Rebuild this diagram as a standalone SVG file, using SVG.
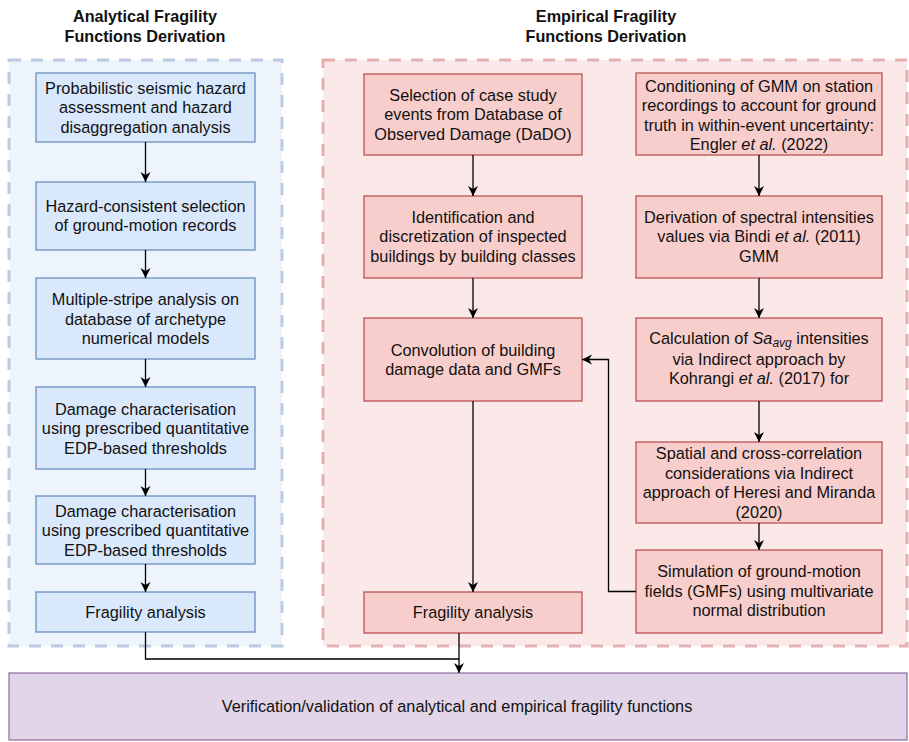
<svg xmlns="http://www.w3.org/2000/svg" width="909" height="742" viewBox="0 0 909 742">
<style>
text{font-family:"Liberation Sans",Arial,Helvetica,sans-serif;font-size:16.3px;fill:#111;text-anchor:middle}
.title{font-weight:bold;font-size:16.2px}
.blue{fill:#dae8fc;stroke:#6c8ebf;stroke-width:1.3}
.red{fill:#f8cecc;stroke:#b85450;stroke-width:1.3}
.purple{fill:#e1d5e7;stroke:#9673a6;stroke-width:1.3}
.cblue{fill:#eef4fc;stroke:#bccbe2;stroke-width:3;stroke-dasharray:12 10}
.cred{fill:#fbe9e9;stroke:#e3b1b0;stroke-width:3;stroke-dasharray:12 10}
.conn{fill:none;stroke:#000;stroke-width:1.3}
.it{font-style:italic}
</style>
<defs>
<marker id="arr" markerUnits="userSpaceOnUse" markerWidth="12" markerHeight="12" refX="10" refY="5" orient="auto">
<path d="M0,0 L10,5 L0,10 L3,5 Z" fill="#000"/>
</marker>
</defs>
<rect width="909" height="742" fill="#fff"/>

<g id="title-analytical">
<text class="title" x="145" y="22">Analytical Fragility</text>
<text class="title" x="145" y="42">Functions Derivation</text>
</g>
<g id="title-empirical">
<text class="title" x="606" y="22">Empirical Fragility</text>
<text class="title" x="606" y="42">Functions Derivation</text>
</g>

<g id="container-analytical"><rect class="cblue" x="9" y="60" width="273" height="586"/></g>
<g id="container-empirical"><rect class="cred" x="323" y="60" width="584" height="586"/></g>

<g id="a1"><rect class="blue" x="36" y="73" width="219" height="69"/>
<text x="145.5" y="93.5">Probabilistic seismic hazard</text>
<text x="145.5" y="113">assessment and hazard</text>
<text x="145.5" y="132.5">disaggregation analysis</text></g>
<g id="a2"><rect class="blue" x="36" y="182" width="219" height="68"/>
<text x="145.5" y="211.5">Hazard-consistent selection</text>
<text x="145.5" y="231">of ground-motion records</text></g>
<g id="a3"><rect class="blue" x="36" y="278" width="219" height="81"/>
<text x="145.5" y="305">Multiple-stripe analysis on</text>
<text x="145.5" y="324.5">database of archetype</text>
<text x="145.5" y="344">numerical models</text></g>
<g id="a4"><rect class="blue" x="36" y="387" width="219" height="82"/>
<text x="145.5" y="414.5">Damage characterisation</text>
<text x="145.5" y="434">using prescribed quantitative</text>
<text x="145.5" y="453.5">EDP-based thresholds</text></g>
<g id="a5"><rect class="blue" x="36" y="496" width="219" height="68"/>
<text x="145.5" y="516.5">Damage characterisation</text>
<text x="145.5" y="536">using prescribed quantitative</text>
<text x="145.5" y="555.5">EDP-based thresholds</text></g>
<g id="a6"><rect class="blue" x="36" y="592" width="219" height="40"/>
<text x="145.5" y="617.5">Fragility analysis</text></g>

<g id="e1"><rect class="red" x="364" y="74" width="218" height="81"/>
<text x="473" y="100.5">Selection of case study</text>
<text x="473" y="120">events from Database of</text>
<text x="473" y="139.5">Observed Damage (DaDO)</text></g>
<g id="e2"><rect class="red" x="364" y="196" width="218" height="82"/>
<text x="473" y="222.5">Identification and</text>
<text x="473" y="242">discretization of inspected</text>
<text x="473" y="261.5">buildings by building classes</text></g>
<g id="e3"><rect class="red" x="364" y="318" width="218" height="83"/>
<text x="473" y="355.5">Convolution of building</text>
<text x="473" y="375">damage data and GMFs</text></g>
<g id="e4"><rect class="red" x="364" y="592" width="218" height="41"/>
<text x="473" y="618">Fragility analysis</text></g>

<g id="g1"><rect class="red" x="636" y="73" width="246" height="82"/>
<text x="759" y="91.5">Conditioning of GMM on station</text>
<text x="759" y="111">recordings to account for ground</text>
<text x="759" y="130.5">truth in within-event uncertainty:</text>
<text x="759" y="150">Engler <tspan class="it">et al.</tspan> (2022)</text></g>
<g id="g2"><rect class="red" x="636" y="196" width="246" height="82"/>
<text x="759" y="222.5">Derivation of spectral intensities</text>
<text x="759" y="242">values via Bindi <tspan class="it">et al.</tspan> (2011)</text>
<text x="759" y="261.5">GMM</text></g>
<g id="g3"><rect class="red" x="636" y="318" width="246" height="83"/>
<text x="759" y="343.5">Calculation of <tspan class="it">Sa</tspan><tspan class="it" font-size="12" dy="3.5">avg</tspan><tspan dy="-3.5"> intensities</tspan></text>
<text x="759" y="364.5">via Indirect approach by</text>
<text x="759" y="384">Kohrangi <tspan class="it">et al.</tspan> (2017) for</text></g>
<g id="g4"><rect class="red" x="636" y="442" width="246" height="81"/>
<text x="759" y="459">Spatial and cross-correlation</text>
<text x="759" y="478.5">considerations via Indirect</text>
<text x="759" y="498">approach of Heresi and Miranda</text>
<text x="759" y="517.5">(2020)</text></g>
<g id="g5"><rect class="red" x="636" y="550" width="246" height="83"/>
<text x="759" y="577">Simulation of ground-motion</text>
<text x="759" y="596.5">fields (GMFs) using multivariate</text>
<text x="759" y="616">normal distribution</text></g>

<g id="final"><rect class="purple" x="9" y="673" width="898" height="67"/>
<text x="457" y="712">Verification/validation of analytical and empirical fragility functions</text></g>

<g id="connectors">
<path class="conn" marker-end="url(#arr)" d="M145.5,142 V182"/>
<path class="conn" marker-end="url(#arr)" d="M145.5,250 V278"/>
<path class="conn" marker-end="url(#arr)" d="M145.5,359 V387"/>
<path class="conn" marker-end="url(#arr)" d="M145.5,469 V496"/>
<path class="conn" marker-end="url(#arr)" d="M145.5,564 V592"/>
<path class="conn" d="M145.5,632 V659 H459"/>
<path class="conn" marker-end="url(#arr)" d="M459,633 V673"/>
<path class="conn" marker-end="url(#arr)" d="M473,155 V196"/>
<path class="conn" marker-end="url(#arr)" d="M473,278 V318"/>
<path class="conn" marker-end="url(#arr)" d="M473,401 V592"/>
<path class="conn" marker-end="url(#arr)" d="M759,155 V196"/>
<path class="conn" marker-end="url(#arr)" d="M759,278 V318"/>
<path class="conn" marker-end="url(#arr)" d="M759,401 V442"/>
<path class="conn" marker-end="url(#arr)" d="M759,523 V550"/>
<path class="conn" marker-end="url(#arr)" d="M636,591.5 H608.5 V359.5 H582"/>
</g>
</svg>
